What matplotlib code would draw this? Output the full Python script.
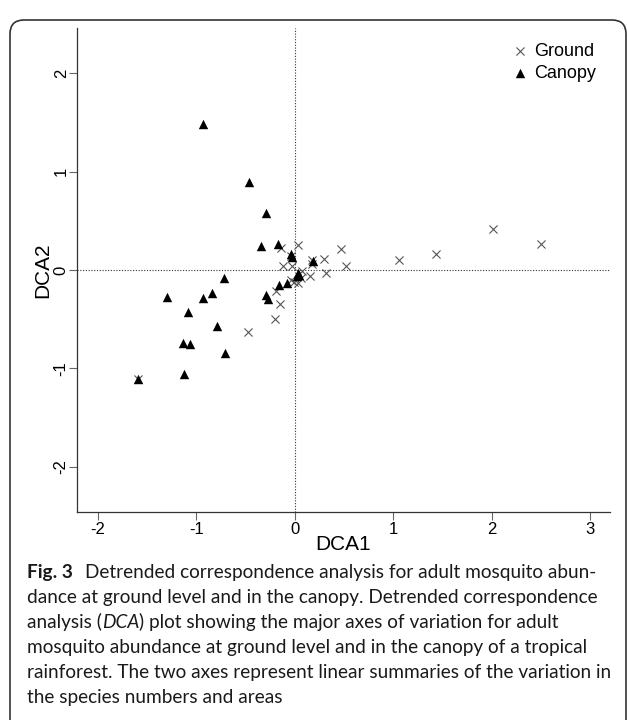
import matplotlib.pyplot as plt
from matplotlib.patches import FancyBboxPatch
from matplotlib.transforms import IdentityTransform

# Canopy samples (filled triangles)
canopy_x = [-0.93, -0.46, -0.29, -0.34, -0.17, -0.04, -0.03, 0.19, -0.72, -1.30,
            -0.84, -0.93, -1.08, -0.79, -1.13, -1.06, -0.71, -1.12, -1.59, -0.29,
            -0.27, -0.16, -0.08, 0.03, 0.04, 0.02]
canopy_y = [1.48, 0.89, 0.58, 0.24, 0.26, 0.16, 0.13, 0.09, -0.08, -0.27,
            -0.23, -0.28, -0.43, -0.57, -0.74, -0.75, -0.84, -1.06, -1.11, -0.25,
            -0.29, -0.15, -0.13, -0.03, -0.05, -0.06]

# Ground samples (crosses)
ground_x = [0.03, -0.14, -0.04, -0.12, -0.03, 0.47, 0.30, 0.18, 0.52, 0.32,
            0.15, 0.07, 0.06, 0.03, -0.01, -0.04, -0.19, -0.15, -0.20, -0.47,
            -1.59, 2.01, 2.50, 1.43, 1.06, 0.18]
ground_y = [0.25, 0.22, 0.14, 0.04, 0.04, 0.21, 0.11, 0.06, 0.04, -0.03,
            -0.06, -0.01, -0.08, -0.13, -0.12, -0.10, -0.21, -0.35, -0.50, -0.63,
            -1.11, 0.42, 0.26, 0.16, 0.10, 0.10]

x_ticks = [-2, -1, 0, 1, 2, 3]
y_ticks = [-2, -1, 0, 1, 2]

caption = [
    [("Fig. 3", "bold", "normal"), ("Detrended correspondence analysis for adult mosquito abun-", "normal", "normal")],
    [("dance at ground level and in the canopy. Detrended correspondence", "normal", "normal")],
    [("analysis (", "normal", "normal"), ("DCA", "normal", "italic"),
     (") plot showing the major axes of variation for adult", "normal", "normal")],
    [("mosquito abundance at ground level and in the canopy of a tropical", "normal", "normal")],
    [("rainforest. The two axes represent linear summaries of the variation in", "normal", "normal")],
    [("the species numbers and areas", "normal", "normal")],
]

W, H = 627, 720
plt.rcParams['axes.unicode_minus'] = False
plt.rcParams['font.family'] = ['Liberation Sans', 'DejaVu Sans']
fig = plt.figure(figsize=(W / 100, H / 100), dpi=100)

ax = fig.add_axes([77 / W, 1 - 512 / H, (610 - 77) / W, (512 - 28) / H])
ax.scatter(ground_x, ground_y, marker='x', s=34, c='#555555', linewidths=0.8,
           label='Ground', zorder=3)
ax.scatter(canopy_x, canopy_y, marker='^', s=46, c='black', linewidths=0,
           label='Canopy', zorder=4)
ax.axhline(0, color='#333333', ls=(0, (1, 1.5)), lw=0.8, zorder=1)
ax.axvline(0, color='#333333', ls=(0, (1, 1.5)), lw=0.8, zorder=1)

ax.set_xlim(-2.21, 3.20)
ax.set_ylim(-2.46, 2.46)
ax.set_xticks(x_ticks)
ax.set_yticks(y_ticks)
for s in ['top', 'right']:
    ax.spines[s].set_visible(False)
for s in ['left', 'bottom']:
    ax.spines[s].set_color('#333333')
    ax.spines[s].set_linewidth(0.9)
ax.tick_params(length=6, width=0.8, color='#666666', labelsize=12, pad=1)
ax.tick_params(axis='y', pad=0)
for lab in ax.get_yticklabels():
    lab.set_rotation(90)
    lab.set_va('center')

ax.set_xlabel('DCA1', fontsize=15, labelpad=-1)
ax.set_ylabel('DCA2', fontsize=15, labelpad=1)

ax.legend(loc='upper right', bbox_to_anchor=(596 / W, 1 - 43 / H),
          bbox_transform=fig.transFigure, frameon=False, fontsize=13,
          handlelength=0.8, handletextpad=0.4, labelspacing=0.25,
          borderpad=0, borderaxespad=0)

# outer rounded frame
frame = FancyBboxPatch((10, -60), 616, 760, boxstyle='round,pad=0,rounding_size=14',
                       transform=IdentityTransform(), fill=False,
                       edgecolor='#333333', lw=1.2)
fig.add_artist(frame)

# caption
renderer = fig.canvas.get_renderer()
baselines = [578, 603, 628, 653, 678, 703]
for line, yb in zip(caption, baselines):
    x = 27
    for i, (txt, weight, style) in enumerate(line):
        if i == 1 and line[0][0] == "Fig. 3":
            x += 12
        t = fig.text(x / W, 1 - yb / H, txt, fontsize=13.7, family=['Lato', 'DejaVu Sans'],
                     fontweight=weight, fontstyle=style, va='baseline', ha='left',
                     color='#1a1a1a')
        x = t.get_window_extent(renderer).x1

fig.savefig('out.png', dpi=100)
